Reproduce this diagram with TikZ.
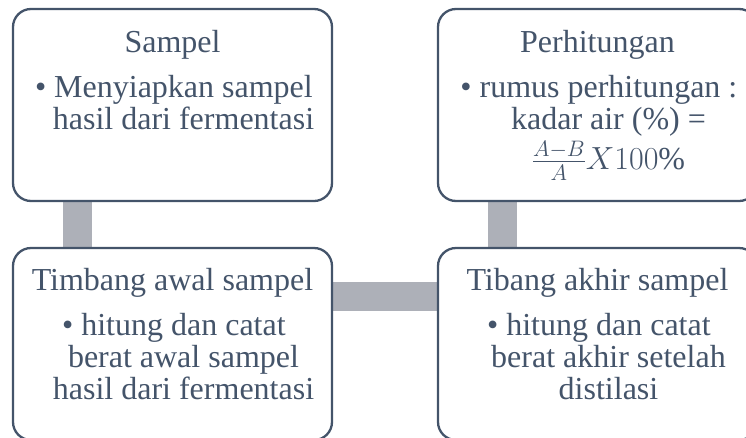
\RequirePackage{fix-cm}
\documentclass[tikz,border=0pt]{standalone}
\usepackage{fontspec}
\setmainfont{Liberation Serif}
\usepackage{tikz}
\usetikzlibrary{positioning,backgrounds}
\definecolor{garisc}{HTML}{44546A}
\definecolor{batangc}{HTML}{ADB0B8}
\tikzset{
  kotak/.style={draw=garisc,line width=2.3pt,rounded corners=18pt,fill=white,
    minimum width=319pt,minimum height=192pt,inner sep=0pt,outer sep=0pt,anchor=north west},
  judul/.style={text=garisc,font=\fontsize{32}{32}\selectfont,inner sep=0pt,anchor=base},
  isi/.style={text=garisc,font=\fontsize{32}{32}\selectfont,align=center,inner sep=0pt,anchor=north},
  batang/.style={fill=batangc}
}
\begin{document}
\begin{tikzpicture}[x=1pt,y=-1pt]
\useasboundingbox (0,0) rectangle (746,437);
\clip (0,0) rectangle (746,437);
% kotak
\node[kotak] (sampel) at (13,9) {};
\node[kotak] (hitung) at (438,9) {};
\node[kotak] (awal) at (13,248) {};
\node[kotak] (akhir) at (438,248) {};
% judul dan isi
\node[judul] (sampel-j) at ([yshift=-43pt]sampel.north) {Sampel};
\node[isi] (sampel-i) at ([xshift=11pt,yshift=-66pt]sampel.north)
  {\llap{\textbullet\ }Menyiapkan sampel\\hasil dari fermentasi};
\node[judul] (hitung-j) at ([yshift=-43pt]hitung.north) {Perhitungan};
\node[isi] (hitung-i) at ([xshift=11pt,yshift=-66pt]hitung.north)
  {\llap{\textbullet\ }rumus perhitungan :\\kadar air (\%) =\\[4pt]$\frac{A-B}{A}X100\%$};
\node[judul] (awal-j) at ([yshift=-42pt]awal.north) {Timbang awal sampel};
\node[isi] (awal-i) at ([xshift=11pt,yshift=-65pt]awal.north)
  {\llap{\textbullet\ }hitung dan catat\\berat awal sampel\\hasil dari fermentasi};
\node[judul] (akhir-j) at ([yshift=-42pt]akhir.north) {Tibang akhir sampel};
\node[isi] (akhir-i) at ([xshift=11pt,yshift=-65pt]akhir.north)
  {\llap{\textbullet\ }hitung dan catat\\berat akhir setelah\\distilasi};
% penghubung
\begin{scope}[on background layer]
\fill[batang] ([xshift=50.3pt]sampel.south west) rectangle ([xshift=78.7pt]awal.north west);
\fill[batang] ([xshift=50.3pt]hitung.south west) rectangle ([xshift=78.7pt]akhir.north west);
\fill[batang] ([yshift=-34.3pt]awal.north east) rectangle ([yshift=-62.7pt]akhir.north west);
\end{scope}
\end{tikzpicture}
\end{document}
